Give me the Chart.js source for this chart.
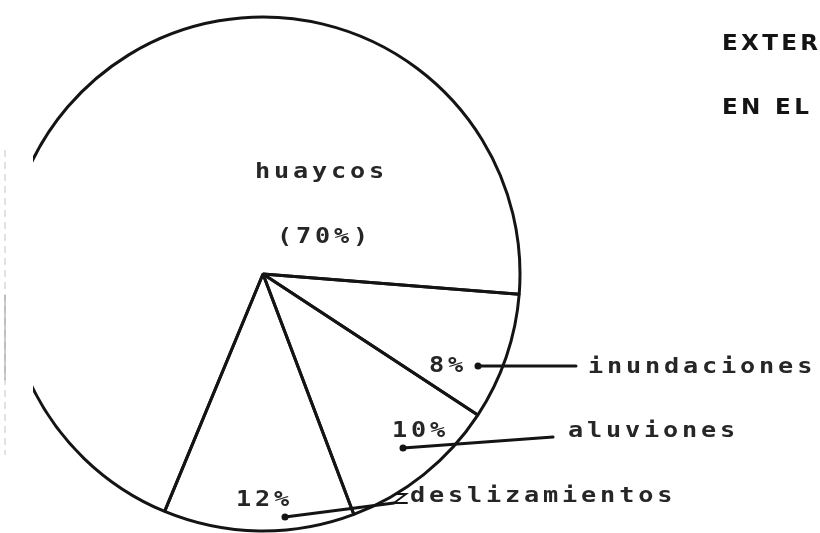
<!DOCTYPE html>
<html>
<head>
<meta charset="utf-8">
<script src="https://cdn.jsdelivr.net/npm/chart.js@4.4.1/dist/chart.umd.min.js"></script>
<style>
  html, body { margin: 0; padding: 0; background: #fff; }
  #wrap { position: relative; width: 820px; height: 533px; overflow: hidden; }
</style>
</head>
<body>
<div id="wrap"><canvas id="pie" width="820" height="533"></canvas></div>
<script>
// ── datos ─────────────────────────────────────────────
const categories  = ['inundaciones', 'aluviones', 'deslizamientos', 'huaycos'];
const percentages = [8, 10, 12, 70];
const titleLines  = ['EXTERNA', 'EN EL'];

const INK      = '#141414';
const TEXT_INK = '#262626';
const MONO     = 'bold 21px "DejaVu Sans Mono", "Liberation Mono", monospace';

// posición de cada rótulo y de su línea guía
const LABELS = {
  huaycos:        { pct: [277, 243], name: [255, 178], wrap: true },
  inundaciones:   { pct: [429, 372], name: [588, 373], leader: [[478, 366], [576, 366]] },
  aluviones:      { pct: [392, 437], name: [568, 437], leader: [[403, 448], [553, 437]] },
  deslizamientos: { pct: [236, 506], name: [410, 502], leader: [[285, 517], [394, 503]], hook: true },
};

// texto de trazador: letras anchas, paso fijo
function plotterText(ctx, str, x, y, sx, spacing) {
  ctx.save();
  ctx.translate(x, y);
  ctx.scale(sx, 1);
  ctx.letterSpacing = spacing + 'px';
  ctx.fillText(str, 0, 0);
  ctx.restore();
}

// el borde izquierdo de la hoja corta el círculo
const clipLeft = {
  id: 'clipLeft',
  beforeDatasetsDraw(chart) {
    const ctx = chart.ctx;
    ctx.save();
    ctx.beginPath();
    ctx.rect(33, 0, chart.width - 33, chart.height);
    ctx.clip();
  },
  afterDatasetsDraw(chart) {
    chart.ctx.restore();
  }
};

const annotations = {
  id: 'annotations',
  afterDraw(chart) {
    const ctx = chart.ctx;
    ctx.save();

    // sombra del borde de la hoja
    ctx.strokeStyle = '#c4c4c4';
    ctx.lineWidth = 1;
    ctx.setLineDash([7, 5]);
    ctx.beginPath();
    ctx.moveTo(5, 150); ctx.lineTo(5, 455);
    ctx.stroke();
    ctx.setLineDash([]);
    ctx.strokeStyle = '#9a9a9a';
    ctx.beginPath();
    ctx.moveTo(5, 295); ctx.lineTo(5, 380);
    ctx.stroke();

    // líneas guía
    ctx.strokeStyle = INK;
    ctx.fillStyle = INK;
    ctx.lineWidth = 3;
    ctx.lineCap = 'round';
    categories.forEach(cat => {
      const L = LABELS[cat];
      if (!L.leader) return;
      const [a, b] = L.leader;
      ctx.beginPath();
      ctx.moveTo(a[0], a[1]);
      ctx.lineTo(b[0], b[1]);
      ctx.stroke();
      ctx.beginPath();
      ctx.arc(a[0], a[1], 3.5, 0, Math.PI * 2);
      ctx.fill();
      if (L.hook) {
        ctx.lineWidth = 2;
        ctx.beginPath();
        ctx.moveTo(b[0], b[1]);
        ctx.lineTo(b[0] + 13, b[1]);
        ctx.moveTo(b[0] + 2, b[1] - 9);
        ctx.lineTo(b[0] + 12, b[1] - 9);
        ctx.lineTo(b[0], b[1]);
        ctx.stroke();
        ctx.lineWidth = 3;
      }
    });

    // textos
    ctx.fillStyle = TEXT_INK;
    ctx.font = MONO;
    ctx.textBaseline = 'alphabetic';
    ctx.textAlign = 'left';
    categories.forEach((cat, i) => {
      const L = LABELS[cat];
      const pct = L.wrap ? `(${percentages[i]}%)` : `${percentages[i]}%`;
      plotterText(ctx, cat, L.name[0], L.name[1], 1.2, 3.2);
      plotterText(ctx, pct, L.pct[0], L.pct[1], 1.2, 3.2);
    });

    // título
    ctx.fillStyle = INK;
    ctx.font = 'bold 21px "DejaVu Sans", sans-serif';
    plotterText(ctx, titleLines[0], 722, 50, 1.1, 3);
    plotterText(ctx, titleLines[1], 722, 114, 1.1, 3);

    ctx.restore();
  }
};

new Chart(document.getElementById('pie'), {
  type: 'pie',
  data: {
    labels: categories,
    datasets: [{
      data: percentages,
      backgroundColor: 'rgba(0,0,0,0)',
      borderColor: INK,
      borderWidth: 3,
      hoverOffset: 0,
      hoverBorderWidth: 3,
    }]
  },
  options: {
    responsive: false,
    animation: false,
    events: [],
    rotation: 94.5,
    layout: { padding: { left: 4.5, right: 298.5, top: 15.5, bottom: 0.5 } },
    plugins: {
      legend: { display: false },
      tooltip: { enabled: false }
    }
  },
  plugins: [clipLeft, annotations]
});
</script>
</body>
</html>
